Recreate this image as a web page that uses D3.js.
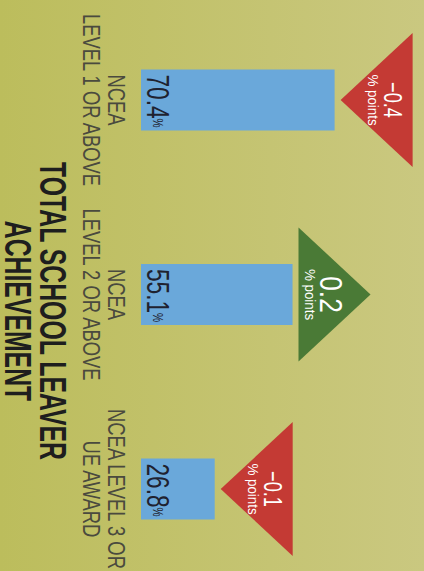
<!DOCTYPE html>
<html lang="en">
<head>
  <meta charset="UTF-8">
  <title>Total school leaver achievement</title>
  <style>
    body { margin: 0; }
    text { font-family: "Liberation Sans", Arial, sans-serif; }
  </style>
</head>
<body>
  <svg id="svg" width="424" height="571"></svg>

  <script src="https://d3js.org/d3.v7.min.js"></script>
  <script>
    // chart values
    const categories = ['NCEA LEVEL 1 OR ABOVE', 'NCEA LEVEL 2 OR ABOVE', 'NCEA LEVEL 3 OR UE AWARD']
    const labelLines = [['NCEA', 'LEVEL 1 OR ABOVE'], ['NCEA', 'LEVEL 2 OR ABOVE'], ['NCEA LEVEL 3 OR', 'UE AWARD']]
    const values = [70.4, 55.1, 26.8]
    const changes = [-0.4, 0.2, -0.1]
    const title = ['TOTAL SCHOOL LEAVER', 'ACHIEVEMENT']

    const svg = d3.select('#svg')

    // squeeze text horizontally to mimic the condensed face
    function condense(sel, k) {
      sel.each(function (d, i) {
        const w = this.getComputedTextLength()
        const f = typeof k === 'function' ? k(d, i) : k
        d3.select(this).attr('textLength', w * f).attr('lengthAdjust', 'spacingAndGlyphs')
      })
    }

    // background gradient
    const grad = svg.append('defs').append('linearGradient').attr('id', 'bg')
      .attr('x1', 0).attr('x2', 1).attr('y1', 0).attr('y2', 0)
    grad.append('stop').attr('offset', '0%').attr('stop-color', '#bcbd5c')
    grad.append('stop').attr('offset', '100%').attr('stop-color', '#cac880')
    svg.append('rect').attr('width', 424).attr('height', 571).attr('fill', 'url(#bg)')

    // the chart is drawn upright in a 571 x 424 frame and turned a quarter clockwise
    const g = svg.append('g').attr('transform', 'translate(424,0) rotate(90)')

    const x = d3.scalePoint().domain(categories).range([100, 489])
    const y = d3.scaleLinear().domain([0, 100]).range([283, 8])
    const bw = 61

    const groups = g.selectAll('g.cat')
      .data(categories)
      .enter()
      .append('g')
      .attr('class', 'cat')

    // bars
    groups.append('rect')
      .attr('x', d => x(d) - bw / 2)
      .attr('y', (d, i) => y(values[i]))
      .attr('width', bw)
      .attr('height', (d, i) => y(0) - y(values[i]))
      .attr('fill', '#6aa8da')

    // value labels
    const val = groups.append('text')
      .attr('x', d => x(d) - bw / 2 + 5)
      .attr('y', y(0) - 6)
      .attr('fill', '#1f2230')
      .style('font-size', '31px')
    val.append('tspan').text((d, i) => values[i].toFixed(1))
    val.append('tspan').text('%').style('font-size', '14px').attr('dy', -6)
    condense(val, 0.73)

    // change triangles
    const triH = 72, triW = 134, gap = 6
    const triTop = i => y(values[i]) - gap
    groups.append('path')
      .attr('d', (d, i) => {
        const cx = x(d), t = triTop(i)
        if (changes[i] < 0) {
          return d3.line()([[cx, t], [cx - triW / 2, t - triH], [cx + triW / 2, t - triH]]) + 'Z'
        }
        return d3.line()([[cx - triW / 2, t], [cx + triW / 2, t], [cx, t - triH]]) + 'Z'
      })
      .attr('fill', (d, i) => changes[i] < 0 ? '#c43a34' : '#4a7a36')

    const chg = groups.append('text')
      .attr('x', d => x(d))
      .attr('y', (d, i) => changes[i] < 0 ? triTop(i) - triH + 29 : triTop(i) - 21)
      .attr('text-anchor', 'middle')
      .attr('fill', '#fff')
      .style('font-size', (d, i) => changes[i] < 0 ? '26px' : '31px')
      .text((d, i) => (changes[i] < 0 ? '\u2212' : '') + Math.abs(changes[i]).toFixed(1))
    condense(chg, (d, i) => changes[i] < 0 ? 0.7 : 0.85)

    const pts = groups.append('text')
      .attr('x', d => x(d))
      .attr('y', (d, i) => changes[i] < 0 ? triTop(i) - triH + 45 : triTop(i) - 6)
      .attr('text-anchor', 'middle')
      .attr('fill', '#fff')
      .style('font-size', '15px')
      .text('% points')
    condense(pts, 0.89)

    // category labels
    groups.each(function (d, i) {
      const lab = d3.select(this).selectAll('text.lab')
        .data(labelLines[i])
        .enter()
        .append('text')
        .attr('class', 'lab')
        .attr('x', x(d))
        .attr('y', (line, j) => 316 + j * 25)
        .attr('text-anchor', 'middle')
        .attr('fill', '#4a4a3e')
        .style('font-size', '23px')
        .text(line => line)
      condense(lab, 0.8)
    })

    // title
    const tt = g.selectAll('text.title')
      .data(title)
      .enter()
      .append('text')
      .attr('class', 'title')
      .attr('x', 311)
      .attr('y', (line, j) => 384 + j * 35)
      .attr('text-anchor', 'middle')
      .attr('fill', '#1e1e1e')
      .style('font-size', '37px')
      .style('font-weight', 'bold')
      .text(line => line)
    condense(tt, 0.67)
  </script>
</body>
</html>
